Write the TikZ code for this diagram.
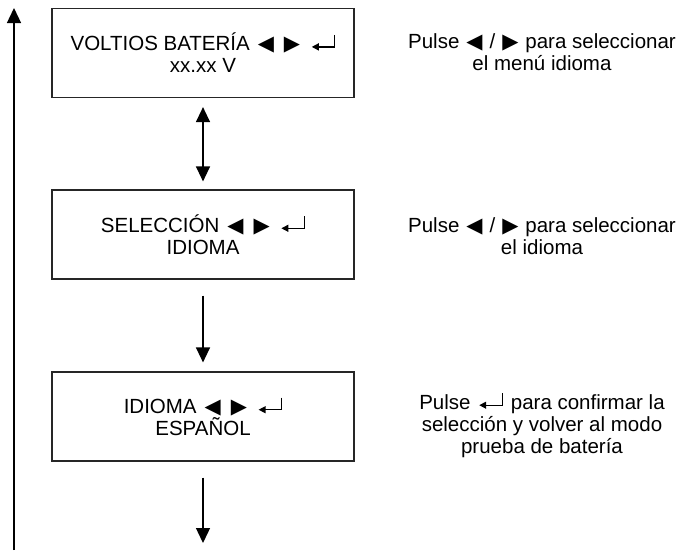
\documentclass[tikz,border=0pt]{standalone}
\usepackage{fontspec}
\setmainfont{Liberation Sans}
\newfontfamily\symfont{DejaVu Sans}
\usetikzlibrary{arrows.meta}
\newcommand{\izq}{{\symfont\fontsize{21}{22}\selectfont ◀}}
\newcommand{\der}{{\symfont\fontsize{21}{22}\selectfont ▶}}
\newcommand{\intro}{\tikz[baseline=0pt,x=1pt,y=1pt]{\draw[line width=1.3pt,-{Triangle[length=7pt,width=7pt]}] (23,16) -- (23,4) -- (0,4);}}
\newcommand{\teclas}{\hspace{8pt}\izq\hspace{10pt}\der\hspace{11pt}\intro}
\tikzset{
  pantalla/.style={draw=black!85, line width=1.2pt, minimum width=302pt, minimum height=89pt, align=center, inner sep=0pt, font=\fontsize{20.5}{22}\selectfont},
  nota/.style={align=center, inner sep=0pt, font=\fontsize{20.5}{22}\selectfont},
  flecha/.style={line width=1.3pt, -{Triangle[length=15pt,width=14pt]}},
}
\begin{document}
\begin{tikzpicture}[x=1pt,y=-1pt]
\useasboundingbox (0,0) rectangle (687,550);
% pantallas
\node[pantalla] (volt) at (203,53) {VOLTIOS BATERÍA\teclas\\xx.xx V};
\node[pantalla] (sel) at (203,234.5) {SELECCIÓN\teclas\\IDIOMA};
\node[pantalla] (idi) at (203,416.5) {IDIOMA\teclas\\ESPAÑOL};
% notas
\node[nota] (n1) at (542,52) {Pulse\hspace{7pt}\izq\hspace{7pt}/\hspace{7pt}\der\hspace{7pt}para seleccionar\\el menú idioma};
\node[nota] (n2) at (542,236) {Pulse\hspace{7pt}\izq\hspace{7pt}/\hspace{7pt}\der\hspace{7pt}para seleccionar\\el idioma};
\node[nota] (n3) at (542,425) {Pulse\hspace{8pt}\intro\hspace{8pt}para confirmar la\\selección y volver al modo\\prueba de batería};
\coordinate (fin) at (203,543);
\coordinate (abajo) at (14,550);
\coordinate (arriba) at (14,8);
% flechas
\draw[flecha, {Triangle[length=15pt,width=14pt]}-{Triangle[length=15pt,width=14pt]}, shorten <=9pt, shorten >=8pt] (volt) -- (sel);
\draw[flecha, shorten <=16pt, shorten >=9pt] (sel) -- (idi);
\draw[flecha, shorten <=16pt] (idi) -- (fin);
\draw[flecha] (abajo) -- (arriba);
\end{tikzpicture}
\end{document}
